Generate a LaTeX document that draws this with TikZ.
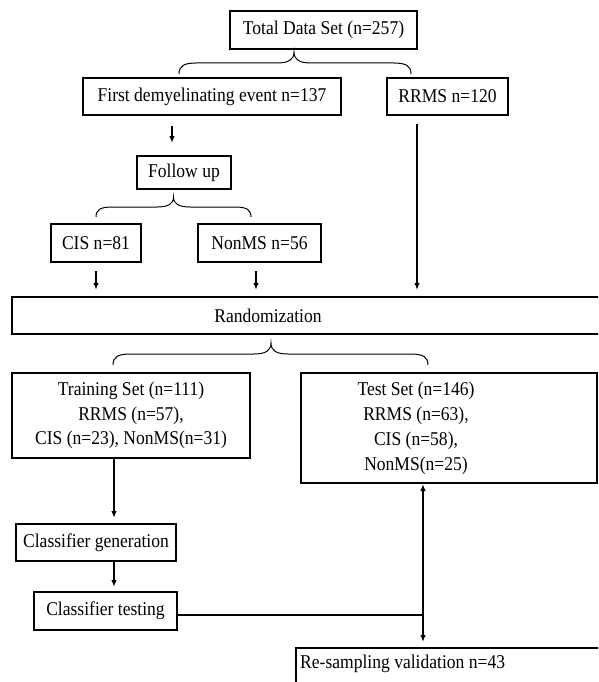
\documentclass[tikz,border=0pt]{standalone}
\usepackage{fontspec}
\setmainfont[FakeStretch=0.9]{Liberation Serif}
\usetikzlibrary{arrows.meta,calc}
\begin{document}
\begin{tikzpicture}[x=1pt,y=-1pt,
  box/.style={draw,line width=2pt,inner sep=0pt,align=center,
    font=\fontsize{19.5}{24.5}\selectfont},
  txt/.style={inner sep=0pt,align=center,font=\fontsize{19.5}{24.5}\selectfont},
  arr/.style={line width=1.4pt,-{Latex[length=7pt,width=5.5pt]}},
  darr/.style={line width=1.4pt,{Latex[length=7pt,width=5.5pt]}-{Latex[length=7pt,width=5.5pt]}},
  ln/.style={line width=1.4pt},
  brc/.style={line width=1pt}]
\useasboundingbox (0,0) rectangle (598,682);
\clip (0,0) rectangle (598,682);
% boxes
\node[box,minimum width=187pt,minimum height=38pt] (total) at (323.5,30) {Total Data Set (n=257)};
\node[box,minimum width=258pt,minimum height=37pt] (first) at (212,96.5) {First demyelinating event n=137};
\node[box,minimum width=121pt,minimum height=37pt] (rrms) at (447.5,96.5) {RRMS n=120};
\node[box,minimum width=94pt,minimum height=33pt] (follow) at (184,172.5) {Follow up};
\node[box,minimum width=90pt,minimum height=38pt] (cis) at (96,243) {CIS n=81};
\node[box,minimum width=123pt,minimum height=38pt] (nonms) at (259.5,243) {NonMS n=56};
\node[box,minimum width=589pt,minimum height=37pt] (rand) at (306.5,315.5) {};
\node[txt] (randtxt) at (268,316) {Randomization};
\node[box,minimum width=238pt,minimum height=85pt] (train) at (131,415.5) {Training Set (n=111)\\RRMS (n=57),\\CIS (n=23), NonMS(n=31)};
\node[box,minimum width=296pt,minimum height=110pt] (test) at (449,428) {};
\node[txt,font=\fontsize{19.5}{25}\selectfont] (testtxt) at (416,428) {Test Set (n=146)\\RRMS (n=63),\\CIS (n=58),\\NonMS(n=25)};
\node[box,minimum width=160pt,minimum height=37pt] (gen) at (96,542.5) {Classifier generation};
\node[box,minimum width=143pt,minimum height=38pt] (testing) at (105.5,611) {Classifier testing};
\node[box,minimum width=305pt,minimum height=37pt] (resamp) at (448.5,666.5) {};
\node[txt,anchor=west] (resamptxt) at (300,664) {Re-sampling validation n=43};
% braces
\draw[brc] (179,74) .. controls (179,66) and (184,63) .. (196,63) -- (277,63) .. controls (288,63) and (294,60) .. (294,52) .. controls (294,60) and (300,63) .. (311,63) -- (394,63) .. controls (406,63) and (411,66) .. (411,74);
\draw[brc] (96,217) .. controls (96,210) and (100,207) .. (112,207) -- (157,207) .. controls (168,207) and (173.5,204) .. (173.5,197) .. controls (173.5,204) and (179,207) .. (190,207) -- (235,207) .. controls (247,207) and (251,210) .. (251,217);
\draw[brc] (113,365) .. controls (113,357) and (118,354) .. (130,354) -- (254,354) .. controls (265,354) and (271,351) .. (271,343) .. controls (271,351) and (277,354) .. (288,354) -- (411,354) .. controls (423,354) and (428,357) .. (428,365);
% connectors
\draw[arr] ($(first.south)+(-40,10)$) -- ($(follow.north)+(-12,-12)$);
\draw[arr] ($(cis.south)+(0,8)$) -- ($(rand.north)+(-210.5,-6)$);
\draw[arr] ($(nonms.south)+(-3.5,8)$) -- ($(rand.north)+(-50.5,-6)$);
\draw[arr] ($(rrms.south)+(-30.5,8)$) -- ($(rand.north)+(110.5,-6)$);
\draw[arr] ($(train.south)+(-17,0)$) -- ($(gen.north)+(18,-5)$);
\draw[arr] ($(gen.south)+(18,0)$) -- ($(testing.north)+(8.5,-4)$);
\coordinate (j) at ($(test.south)+(-26,131)$);
\draw[ln] (testing.east |- j) -- (j);
\draw[darr] ($(test.south)+(-26,0)$) -- ($(resamp.north)+(-25.5,-5)$);
\end{tikzpicture}
\end{document}
